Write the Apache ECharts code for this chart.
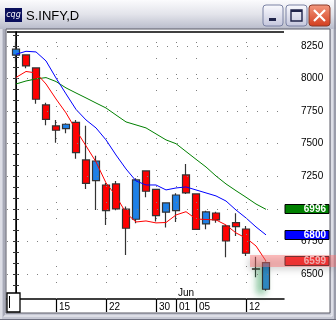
<!DOCTYPE html>
<html><head><meta charset="utf-8">
<script src="https://cdn.jsdelivr.net/npm/echarts@6/dist/echarts.min.js"></script>
<style>html,body{margin:0;padding:0;background:#c9cbd6}#c{width:336px;height:320px}</style>
</head><body><div id="c"></div>
<script>
// ---- data ----
const dates = ['May 09','May 10','May 11','May 12','May 15','May 16','May 17','May 18','May 19',
  'May 22','May 23','May 24','May 25','May 26','May 30','May 31','Jun 01','Jun 02',
  'Jun 05','Jun 06','Jun 07','Jun 08','Jun 09','Jun 12','Jun 13','Jun 14'];
const opens  = [8179,8181,8081,7797,7636,7615,7664,7375,7216,7183,7191,6997,6920,7291,7150,6974,6986,7260,7114,6884,6968,6869,6894,6845,6540,6383];
const closes = [8225,8097,7841,7687,7603,7649,7431,7196,7367,6986,6999,6851,7222,7135,6948,7045,7106,7122,6843,6976,6915,6753,6863,6659,6537,6587];
const lows   = [8130,8079,7807,7641,7508,7580,7385,7153,6991,6876,6990,6646,6889,7089,6902,6856,6899,7114,6840,6843,6894,6628,6792,6638,6475,6372];
const highs  = [8283,8185,8085,7815,7682,7657,7682,7638,7408,7198,7214,7017,7235,7295,7155,7050,7119,7344,7118,6986,6978,6876,6966,6868,6633,6595];
const maRed   = [8008,8054,8043,7958,7843,7736,7605,7483,7360,7199,7099,6968,6899,6907,6892,6895,6953,6978,6922,6918,6915,6876,6815,6776,6715,6599];
const maBlue  = [8186,8209,8204,8135,8004,7882,7763,7682,7621,7529,7413,7306,7214,7183,7183,7145,7160,7168,7145,7122,7099,7060,6991,6930,6861,6800];
const maGreen = [7958,7981,7997,8007,7977,7928,7889,7851,7812,7774,7720,7667,7644,7621,7575,7529,7500,7440,7380,7321,7252,7191,7139,7089,7037,6996];
const xTickIdx = [4,9,14,16,18,23];
const xTickLabels = ['15','22','30','01','05','12'];
const monthIdx = [16];
const monthLabels = ['Jun'];
const yLabels = [6500,6750,7000,7250,7500,7750,8000,8250];
const yMinorTicks = [];
for (let v = 6333.33; v < 8357; v += 83.333) yMinorTicks.push(Math.round(v*100)/100);

const Y_MIN = 6308, Y_MAX = 8357, X_MIN = -0.9, X_MAX = 26.8;

const chart = echarts.init(document.getElementById('c'), null, {renderer:'canvas'});
const candleData = dates.map((d,i)=>{
  const item = {value:[i, opens[i], closes[i], lows[i], highs[i]]};
  if (i === dates.length-1) item.itemStyle = {color:'#2f86c8', shadowColor:'rgba(40,150,80,0.55)', shadowBlur:7, shadowOffsetX:-5, shadowOffsetY:4};
  return item;
});
const lineData = arr => arr.map((v,i)=>[i,v]);
const font = 'Liberation Sans';

chart.setOption({
  animation:false,
  backgroundColor:'transparent',
  grid:{left:7, right:52, top:32, bottom:21, show:true, backgroundColor:'#fff', borderWidth:0},
  xAxis:[{
    type:'value', min:X_MIN, max:X_MAX, position:'bottom',
    axisLine:{show:true, lineStyle:{color:'#000', width:1.5}},
    axisTick:{show:true, length:13, customValues:xTickIdx, lineStyle:{color:'#000', width:1.2}},
    axisLabel:{show:true, customValues:xTickIdx, formatter:v=>xTickLabels[xTickIdx.indexOf(Math.round(v))]||'',
      align:'left', verticalAlign:'top', margin:3, padding:[0,0,0,3], fontFamily:font, fontSize:10, color:'#000'},
    splitLine:{show:false}
  },{
    type:'value', min:X_MIN, max:X_MAX, position:'bottom',
    axisLine:{show:false}, axisTick:{show:false}, splitLine:{show:false},
    axisLabel:{show:true, inside:true, customValues:monthIdx, formatter:v=>monthLabels[monthIdx.indexOf(Math.round(v))]||'',
      align:'left', margin:1, padding:[0,0,0,2], fontFamily:font, fontSize:10, color:'#000'}
  }],
  yAxis:[{
    type:'value', min:Y_MIN, max:Y_MAX, position:'right',
    axisLine:{show:true, lineStyle:{color:'#000', width:1.5}},
    axisTick:{show:true, inside:true, length:3, customValues:yMinorTicks, lineStyle:{color:'#333'}},
    axisLabel:{show:true, customValues:yLabels, formatter:v=>String(Math.round(v)), margin:17, fontFamily:font, fontSize:10, color:'#000'},
    splitLine:{show:false}
  },{
    type:'value', min:Y_MIN, max:Y_MAX, position:'left',
    axisLine:{show:true, lineStyle:{color:'#000', width:1}},
    axisTick:{show:true, inside:true, length:3, customValues:yMinorTicks, lineStyle:{color:'#333'}},
    axisLabel:{show:false}, splitLine:{show:false}
  }],
  series:[
    {type:'line', data:[], silent:true, xAxisIndex:0, yAxisIndex:0,
     markLine:{silent:true, symbol:'none', label:{show:false}, animation:false,
       lineStyle:{color:'#808080', type:[1,9], width:1},
       data: yLabels.map(v=>({yAxis:v})).concat(xTickIdx.map(i=>({xAxis:i, lineStyle:{type:[1,15]}})))}},
    {type:'candlestick', xAxisIndex:0, yAxisIndex:0, barWidth:7,
     dimensions:['idx','open','close','lowest','highest'],
     encode:{x:'idx', y:['open','close','lowest','highest']},
     itemStyle:{color:'#1e80e6', color0:'#ff0000', borderColor:'#333', borderColor0:'#333', borderWidth:1.2},
     data:candleData, z:3},
    {type:'line', data:lineData(maGreen), symbol:'none', lineStyle:{color:'#008000', width:1}, z:4},
    {type:'line', data:lineData(maBlue), symbol:'none', lineStyle:{color:'#0000ff', width:1}, z:4},
    {type:'line', data:lineData(maRed), symbol:'none', lineStyle:{color:'#ff0000', width:1}, z:4}
  ]
});

// ---- chrome & badges ----
const py = v => chart.convertToPixel({yAxisIndex:0}, v);
const px = v => chart.convertToPixel({xAxisIndex:0}, v);
const last = dates.length-1;
function badge(v, fill){
  const y = Math.round(py(v));
  return [
    {type:'rect', shape:{x:285, y:y-4.5, width:44, height:9}, style:{fill:fill, stroke:'#000', lineWidth:1}, z:50},
    {type:'text', style:{text:String(v), x:326, y:y+0.5, align:'right', verticalAlign:'middle', fill:'#fff', font:'bold 10px "Liberation Sans"'}, z:51}
  ];
}
const yr = py(maRed[last]);
const graphics = [
  {type:'rect', shape:{x:0,y:0,width:336,height:320}, style:{fill:'#c6c8d4'}, z:-10, silent:true},
  {type:'rect', shape:{x:0,y:0,width:336,height:29}, style:{fill:new echarts.graphic.LinearGradient(0,0,0,1,[{offset:0,color:'#fbfbfd'},{offset:0.5,color:'#e2e3ea'},{offset:1,color:'#b9bccb'}])}, z:-9},
  {type:'rect', shape:{x:6,y:29,width:324,height:284}, style:{fill:'#fff', stroke:'#5a5a66', lineWidth:1}, z:-8},
  {type:'line', shape:{x1:1,y1:29,x2:1,y2:319}, style:{stroke:'#f4f4f8', lineWidth:1}, z:-7},
  {type:'line', shape:{x1:4,y1:29,x2:4,y2:316}, style:{stroke:'#8c8e9c', lineWidth:1}, z:-7},
  {type:'line', shape:{x1:332,y1:29,x2:332,y2:316}, style:{stroke:'#f4f4f8', lineWidth:1}, z:-7},
  {type:'line', shape:{x1:335,y1:0,x2:335,y2:320}, style:{stroke:'#6e7080', lineWidth:1}, z:-7},
  {type:'line', shape:{x1:0,y1:319.5,x2:336,y2:319.5}, style:{stroke:'#6e7080', lineWidth:1}, z:-7},
  {type:'line', shape:{x1:4,y1:316,x2:332,y2:316}, style:{stroke:'#f4f4f8', lineWidth:1}, z:-7},
  {type:'line', shape:{x1:7,y1:32,x2:284,y2:32}, style:{stroke:'#000', lineWidth:1.5}, z:20},
  {type:'rect', shape:{x:5,y:8,width:17,height:14}, style:{fill:'#0a0f5c'}, z:5},
  {type:'text', style:{text:'cqg', x:13.5, y:14.5, align:'center', verticalAlign:'middle', fill:'#fff', font:'italic 8px "DejaVu Sans"'}, z:6},
  {type:'text', style:{text:'S.INFY,D', x:26, y:16, verticalAlign:'middle', fill:'#000', font:'13px "Liberation Sans"'}, z:6},
  {type:'rect', shape:{x:263,y:5,width:20,height:21,r:3}, style:{fill:new echarts.graphic.LinearGradient(0,0,0,1,[{offset:0,color:'#fbfbff'},{offset:1,color:'#c4c6dc'}]), stroke:'#7a82a4', lineWidth:1}, z:5},
  {type:'rect', shape:{x:269,y:18,width:7,height:3}, style:{fill:'#20244a'}, z:6},
  {type:'rect', shape:{x:286,y:5,width:21,height:21,r:3}, style:{fill:new echarts.graphic.LinearGradient(0,0,0,1,[{offset:0,color:'#fbfbff'},{offset:1,color:'#c4c6dc'}]), stroke:'#7a82a4', lineWidth:1}, z:5},
  {type:'rect', shape:{x:291,y:10,width:11,height:11}, style:{fill:'none', stroke:'#20244a', lineWidth:1.4}, z:6},
  {type:'rect', shape:{x:291,y:10,width:11,height:2}, style:{fill:'#20244a'}, z:6},
  {type:'rect', shape:{x:309,y:5,width:21,height:21,r:3}, style:{fill:new echarts.graphic.LinearGradient(0,0,0,1,[{offset:0,color:'#f49a80'},{offset:1,color:'#d23c1c'}]), stroke:'#8a3a2a', lineWidth:1}, z:5},
  {type:'line', shape:{x1:314,y1:10,x2:325,y2:21}, style:{stroke:'#fff', lineWidth:2.2}, z:6},
  {type:'line', shape:{x1:325,y1:10,x2:314,y2:21}, style:{stroke:'#fff', lineWidth:2.2}, z:6},
  {type:'rect', shape:{x:7,y:293,width:13,height:19}, style:{fill:'#fff', stroke:'#000', lineWidth:1.3}, z:30},
  {type:'line', shape:{x1:9.5,y1:296,x2:9.5,y2:308}, style:{stroke:'#000', lineWidth:1}, z:31}
].concat(badge(maGreen[last], '#008000'), badge(maBlue[last], '#0000ff'), badge(maRed[last], '#ff0000'), [
  {type:'rect', shape:{x:Math.round(px(23.4)), y:yr-6, width:336-Math.round(px(23.4)), height:12}, style:{fill:'rgba(255,110,110,0.45)', shadowColor:'rgba(0,0,0,0.35)', shadowBlur:6, shadowOffsetX:-2, shadowOffsetY:3}, z:60}
]);
chart.setOption({graphic:graphics});
</script></body></html>
